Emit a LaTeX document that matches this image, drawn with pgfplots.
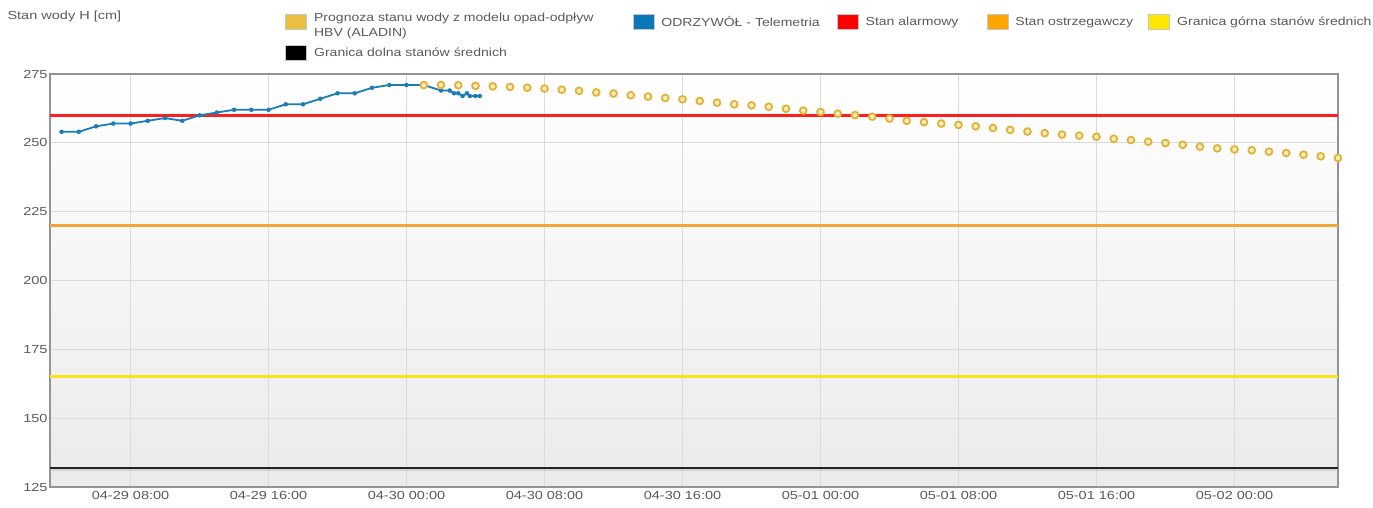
\documentclass[border=0pt]{standalone}
\usepackage{pgfplots}
\pgfplotsset{compat=1.18}
\usepackage{fontspec}
\setmainfont{Liberation Sans}[FakeStretch=1.24]
\newfontfamily\legfont{Liberation Sans}[FakeStretch=1.2]
\definecolor{txt}{HTML}{5A5A5A}
\definecolor{progc}{HTML}{EBC040}
\definecolor{progedge}{HTML}{E4B232}
\definecolor{progfill}{HTML}{FBEDC4}
\definecolor{telec}{HTML}{0A78B8}
\definecolor{teleline}{HTML}{1A7DB6}
\definecolor{alarmc}{HTML}{FF1E1E}
\definecolor{warnc}{HTML}{F2A633}
\definecolor{warnbox}{HTML}{FFA500}
\definecolor{upperc}{HTML}{F7E41C}
\definecolor{upperbox}{HTML}{FFE800}
\definecolor{lowerc}{HTML}{222222}
\pgfplotsset{legbox/.style={legend image code/.code={\draw[draw=black!22, line width=0.9pt, fill=#1] (0pt,-7.5pt) rectangle (21pt,7.5pt);}}}
\begin{document}
\begin{tikzpicture}
\path[use as bounding box] (-50pt,-20pt) rectangle (1323pt,487pt);
\begin{axis}[
  at={(0pt,0pt)}, anchor=south west,
  scale only axis, width=1288pt, height=413pt,
  xmin=3.33, xmax=78, ymin=125, ymax=275,
  xtick={8,16,24,32,40,48,56,64,72},
  xticklabels={04-29 08:00,04-29 16:00,04-30 00:00,04-30 08:00,04-30 16:00,05-01 00:00,05-01 08:00,05-01 16:00,05-02 00:00},
  ytick={125,150,175,200,225,250,275},
  grid=major, major grid style={draw=black!14, line width=0.9pt},
  tick style={draw=none},
  axis line style={draw=black!42, line width=1.1pt},
  axis background/.style={top color=white, bottom color=black!8},
  /pgf/number format/assume math mode=true,
  tick label style={font=\fontsize{11.7}{14}\selectfont, text=txt},
  xticklabel style={yshift=-1pt},
  yticklabel style={xshift=1pt},
  ylabel={Stan wody H [cm]},
  every axis y label/.style={at={(rel axis cs:0,1)}, anchor=west, xshift=-46pt, yshift=58pt, font=\fontsize{11.7}{14}\selectfont, text=txt},
  legend columns=5,
  legend cell align=left,
  legend style={draw=none, fill=none, inner sep=0pt, at={(rel axis cs:0,1)}, anchor=north west, xshift=235pt, yshift=64pt,
    font=\legfont\fontsize{11.7}{14}\selectfont, text=txt, row sep=12pt,
    /tikz/every odd column/.append style={column sep=5pt},
    /tikz/column 2/.append style={column sep=37pt},
    /tikz/column 4/.append style={column sep=15pt},
    /tikz/column 6/.append style={column sep=26pt},
    /tikz/column 8/.append style={column sep=13pt}},
]
\addlegendimage{legbox=progc}
\addlegendentry{{\begin{tabular}{@{}l@{}}Prognoza stanu wody z modelu opad-odpływ\\[1pt]HBV (ALADIN)\end{tabular}}}
\addlegendimage{legbox=telec}
\addlegendentry{ODRZYWÓŁ - Telemetria}
\addlegendimage{legbox=red}
\addlegendentry{Stan alarmowy}
\addlegendimage{legbox=warnbox}
\addlegendentry{Stan ostrzegawczy}
\addlegendimage{legbox=upperbox}
\addlegendentry{Granica górna stanów średnich}
\addlegendimage{legbox=black}
\addlegendentry{Granica dolna stanów średnich}

% threshold lines
\addplot[forget plot, draw=black!25, line width=4pt, opacity=0.5] coordinates {(3.33,131.6) (78,131.6)};
\addplot[forget plot, draw=lowerc, line width=2.4pt] coordinates {(3.33,132) (78,132)};
\addplot[forget plot, draw=upperc, line width=3pt] coordinates {(3.33,165) (78,165)};
\addplot[forget plot, draw=warnc, line width=2.8pt] coordinates {(3.33,220) (78,220)};
\addplot[forget plot, draw=alarmc, line width=2.8pt] coordinates {(3.33,260) (78,260)};

% telemetry
\addplot[forget plot, draw=teleline, line width=1.8pt, mark=*, mark size=2pt, mark options={fill=teleline, draw=teleline, line width=0.4pt}] coordinates {
(4,254) (5,254) (6,256) (7,257) (8,257) (9,258) (10,259) (11,258) (12,260) (13,261)
(14,262) (15,262) (16,262) (17,264) (18,264) (19,266) (20,268) (21,268) (22,270) (23,271)
(24,271) (25,271) (26,269) (26.5,269) (26.75,268) (27,268) (27.25,267) (27.5,268) (27.67,267) (28,267) (28.25,267)
};

% forecast
\addplot[forget plot, only marks, mark=*, mark size=3.4pt, mark options={draw=progedge, fill=progfill, line width=1.8pt}] coordinates {
(25,271) (26,271) (27,270.9) (28,270.7) (29,270.5) (30,270.3) (31,270.0) (32,269.7) (33,269.3) (34,268.9)
(35,268.3) (36,267.9) (37,267.3) (38,266.8) (39,266.3) (40,265.8) (41,265.2) (42,264.6) (43,264.0) (44,263.6)
(45,263.1) (46,262.4) (47,261.7) (48,261.2) (49,260.6) (50,260.1) (51,259.5) (52,258.8) (53,258.0) (54,257.5)
(55,257.0) (56,256.5) (57,256.0) (58,255.4) (59,254.7) (60,254.1) (61,253.5) (62,253.0) (63,252.6) (64,252.2)
(65,251.5) (66,251.0) (67,250.4) (68,249.9) (69,249.3) (70,248.6) (71,248.0) (72,247.6) (73,247.3) (74,246.8)
(75,246.3) (76,245.7) (77,245.1) (78,244.5)
};
\end{axis}
\end{tikzpicture}
\end{document}
